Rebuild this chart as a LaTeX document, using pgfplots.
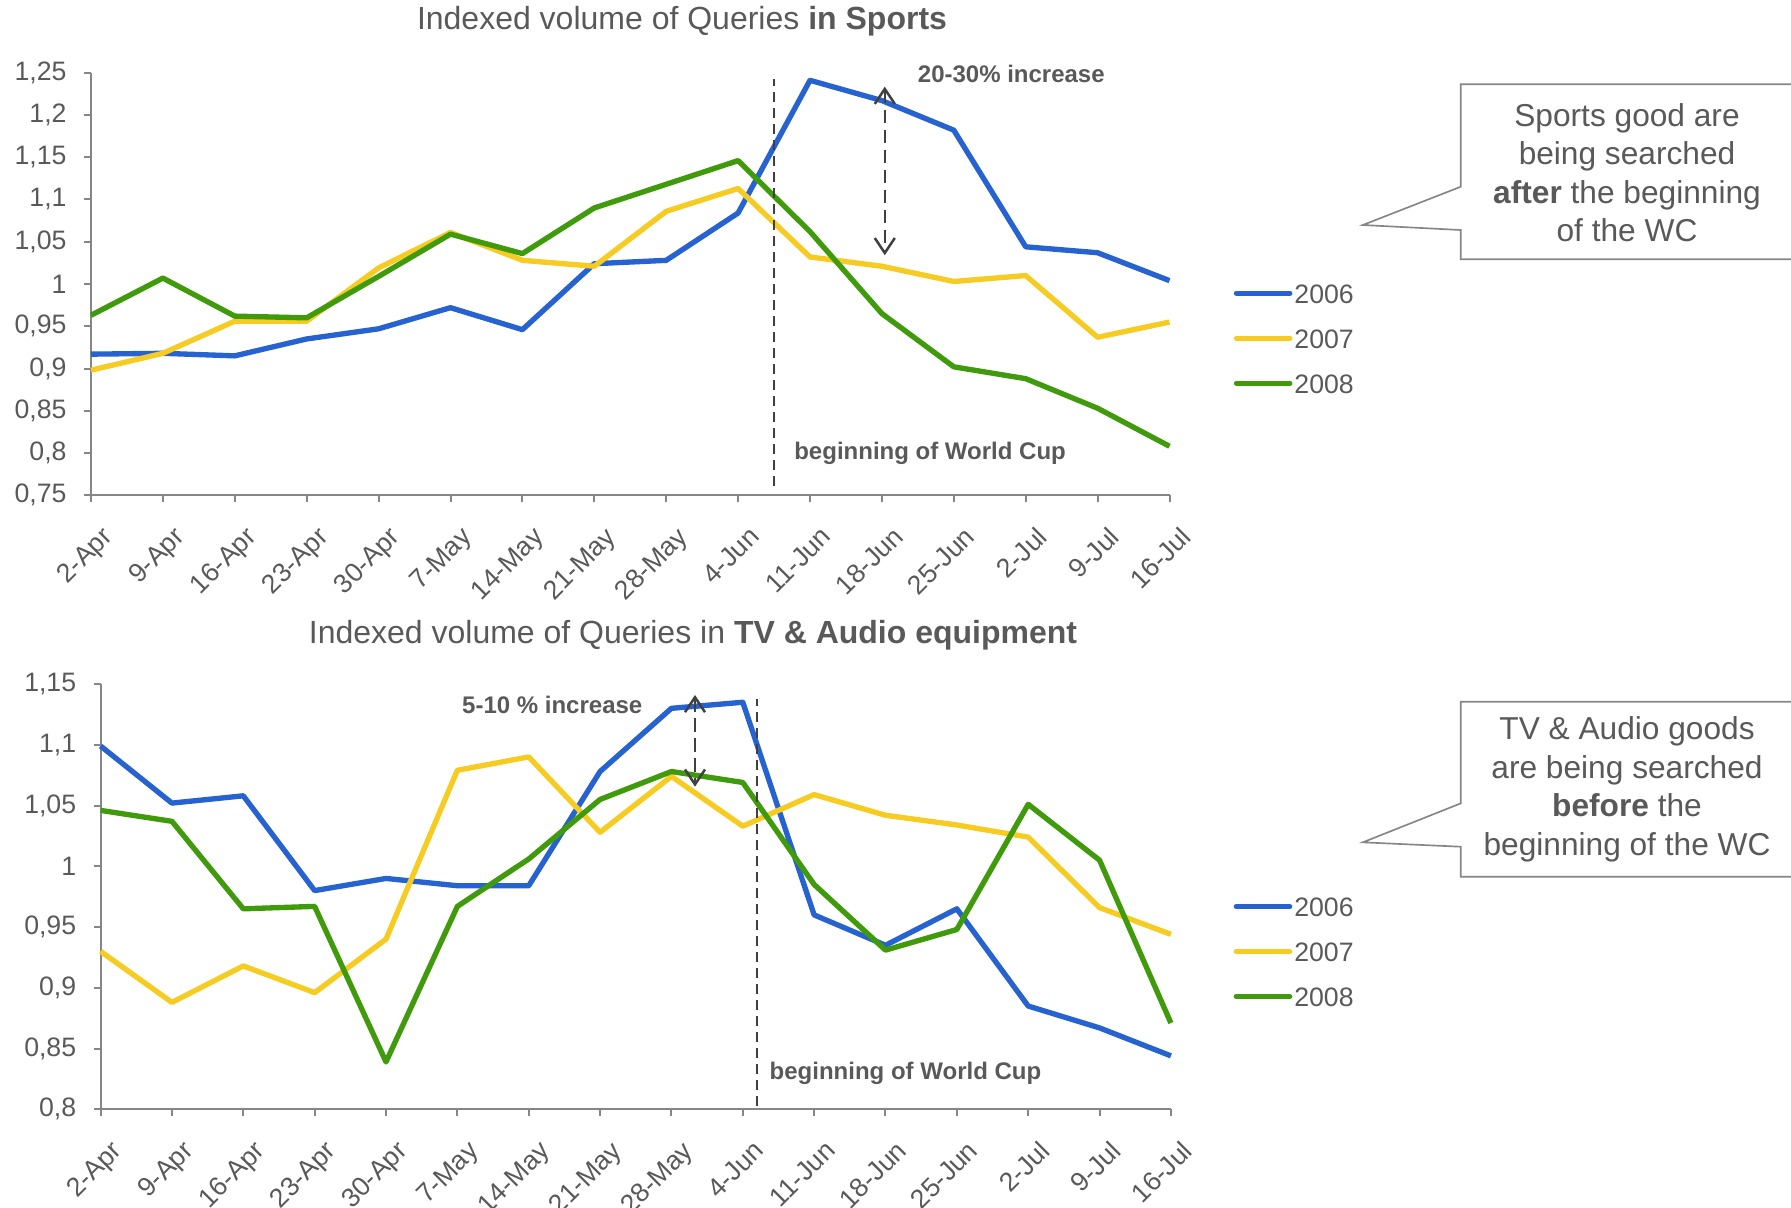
\documentclass[border=0pt]{standalone}
\usepackage{fontspec}
\setmainfont{Liberation Sans}
\usepackage{pgfplots}
\pgfplotsset{compat=1.18}
\usepackage{pgfplotstable}
\usetikzlibrary{arrows.meta}

\definecolor{c2006}{RGB}{38,99,208}
\definecolor{c2007}{RGB}{246,203,34}
\definecolor{c2008}{RGB}{63,155,11}
\definecolor{txtgray}{RGB}{89,89,89}
\definecolor{axisgray}{RGB}{134,134,134}
\definecolor{dashgray}{RGB}{64,64,64}

% weekly indexed query volume, columns: k, 2006, 2007, 2008
\pgfplotstableread{
k  b      y      g
0  0.917  0.898  0.963
1  0.918  0.918  1.007
2  0.915  0.956  0.962
3  0.935  0.956  0.960
4  0.947  1.019  1.009
5  0.972  1.061  1.059
6  0.946  1.028  1.036
7  1.024  1.021  1.090
8  1.028  1.086  1.118
9  1.084  1.113  1.146
10 1.241  1.032  1.062
11 1.217  1.021  0.965
12 1.182  1.003  0.902
13 1.044  1.010  0.888
14 1.037  0.937  0.853
15 1.004  0.955  0.808
}\sports

\pgfplotstableread{
k  b      y      g
0  1.099  0.930  1.046
1  1.052  0.888  1.037
2  1.058  0.918  0.965
3  0.980  0.896  0.967
4  0.990  0.940  0.839
5  0.984  1.079  0.967
6  0.984  1.090  1.006
7  1.078  1.028  1.055
8  1.130  1.074  1.078
9  1.135  1.033  1.069
10 0.960  1.059  0.985
11 0.935  1.042  0.931
12 0.965  1.034  0.948
13 0.885  1.024  1.051
14 0.867  0.966  1.005
15 0.844  0.944  0.871
}\tvaudio

\tikzset{
  wcarrow/.style={dashgray, line width=0.75pt, dash pattern=on 4pt off 2pt,
    {Straight Barb[length=4.5pt, width=6pt]}-{Straight Barb[length=4.5pt, width=6pt]}},
  wcline/.style={dashgray, line width=0.6pt, dash pattern=on 3pt off 1.8pt},
  note/.style={font=\bfseries\fontsize{7.2}{8}\selectfont, text=txtgray},
}

\pgfplotsset{
  wc/.style={
    scale only axis,
    xmin=0, xmax=15,
    clip=false,
    axis x line*=bottom, axis y line*=left,
    axis line style={draw=axisgray, line width=0.6pt, -},
    tick align=outside,
    major tick length=2.1pt,
    tick style={draw=axisgray, line width=0.6pt},
    xtick={0,...,15},
    xticklabels={2-Apr,9-Apr,16-Apr,23-Apr,30-Apr,7-May,14-May,21-May,28-May,4-Jun,11-Jun,18-Jun,25-Jun,2-Jul,9-Jul,16-Jul},
    x tick label style={rotate=45, anchor=north east, font=\fontsize{8}{9}\selectfont,
      text=txtgray, inner sep=1pt, yshift=-5.7pt, xshift=-1.7pt},
    y tick label style={font=\fontsize{8}{9}\selectfont, text=txtgray, xshift=-1.7pt},
    /pgf/number format/use comma,
    /pgf/number format/1000 sep={},
    /pgf/number format/assume math mode=true,
    legend cell align=left,
    legend image code/.code={\draw[#1, line cap=round] (0pt,0pt) -- (16pt,0pt);},
    legend style={draw=none, fill=none, anchor=west,
      font=\fontsize{8}{9}\selectfont, text=txtgray,
      row sep=6.3pt, inner sep=0pt,
      nodes={inner sep=0.6pt, text height=6pt, text depth=0pt}},
  },
  ser/.style={line width=1.6pt, line join=round, color=#1},
}

\begin{document}
\begin{tikzpicture}
\useasboundingbox (0,0) rectangle (537.3pt,-362.1pt);

% ---------- Sports ----------
\node[font=\fontsize{9.6}{11}\selectfont, text=txtgray] at (204.6pt,-6.4pt)
  {Indexed volume of Queries \textbf{in Sports}};

\begin{axis}[wc,
  at={(27.3pt,-21.81pt)}, anchor=north west,
  width=323.55pt, height=126.78pt,
  ymin=0.75, ymax=1.25,
  ytick={0.75,0.8,0.85,0.9,0.95,1,1.05,1.1,1.15,1.2,1.25},
  legend style={at={(1.059,0.3715)}},
]
\addplot[ser=c2006] table[x=k, y=b] {\sports};
\addplot[ser=c2007] table[x=k, y=y] {\sports};
\addplot[ser=c2008] table[x=k, y=g] {\sports};
\legend{2006,2007,2008}

\draw[wcline] (axis cs:9.5,0.761) -- (axis cs:9.5,1.242);
\draw[wcarrow] (axis cs:11.04,1.2335) -- (axis cs:11.04,1.034);
\node[note] at (axis cs:12.8,1.248) {20-30\% increase};
\node[note] at (axis cs:11.67,0.80) {beginning of World Cup};
\end{axis}

\draw[axisgray, line width=0.5pt, fill=white]
  (438.24pt,-25.29pt) -- (540pt,-25.29pt) -- (540pt,-77.79pt) -- (438.24pt,-77.79pt)
  -- (438.24pt,-69pt) -- (408.84pt,-67.5pt) -- (438.24pt,-56.01pt) -- cycle;
\node[font=\fontsize{9.5}{11.55}\selectfont, text=txtgray, align=center] at (488.1pt,-51.8pt)
  {Sports good are\\being searched\\\textbf{after} the beginning\\of the WC};

% ---------- TV & Audio ----------
\node[font=\fontsize{9.6}{11}\selectfont, text=txtgray] at (207.9pt,-190.6pt)
  {Indexed volume of Queries in \textbf{TV \& Audio equipment}};

\begin{axis}[wc,
  at={(30.18pt,-205.2pt)}, anchor=north west,
  width=321.09pt, height=127.59pt,
  ymin=0.8, ymax=1.15,
  ytick={0.8,0.85,0.9,0.95,1,1.05,1.1,1.15},
  legend style={at={(1.058,0.3706)}},
]
\addplot[ser=c2006] table[x=k, y=b] {\tvaudio};
\addplot[ser=c2007] table[x=k, y=y] {\tvaudio};
\addplot[ser=c2008] table[x=k, y=g] {\tvaudio};
\legend{2006,2007,2008}

\draw[wcline] (axis cs:9.2,0.803) -- (axis cs:9.2,1.138);
\draw[wcarrow] (axis cs:8.33,1.141) -- (axis cs:8.33,1.0655);
\node[note] at (axis cs:6.33,1.133) {5-10 \% increase};
\node[note] at (axis cs:11.28,0.83) {beginning of World Cup};
\end{axis}

\draw[axisgray, line width=0.5pt, fill=white]
  (438.24pt,-210.51pt) -- (540pt,-210.51pt) -- (540pt,-263.01pt) -- (438.24pt,-263.01pt)
  -- (438.24pt,-254.01pt) -- (408.84pt,-252.69pt) -- (438.24pt,-240.99pt) -- cycle;
\node[font=\fontsize{9.5}{11.55}\selectfont, text=txtgray, align=center] at (488.1pt,-236.76pt)
  {TV \& Audio goods\\are being searched\\\textbf{before} the\\beginning of the WC};
\end{tikzpicture}
\end{document}
